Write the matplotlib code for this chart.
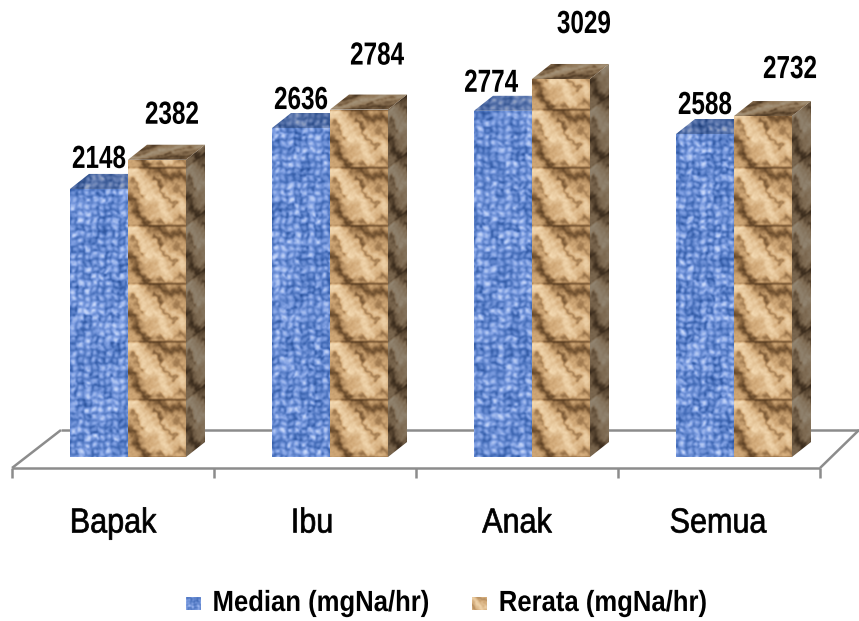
import numpy as np
import matplotlib
matplotlib.use("Agg")
import matplotlib.pyplot as plt
from matplotlib.patches import Polygon
from matplotlib.colors import LinearSegmentedColormap
from matplotlib.patheffects import AbstractPathEffect
from matplotlib.transforms import Affine2D

categories = ["Bapak", "Ibu", "Anak", "Semua"]
median_values = [2148, 2636, 2774, 2588]
mean_values = [2382, 2784, 3029, 2732]
series_names = ["Median (mgNa/hr)", "Rerata (mgNa/hr)"]

W, H = 859, 621
BASE_Y = 457          # baseline of the bars, in figure pixels
PX_PER_UNIT = 0.1248  # vertical scale
GROUP_STEP = 202      # pixels per category
GROUP_CENTRE = 113    # pixel position of the first category's centre
BAR_W = 58
DEPTH_X, DEPTH_Y = 19, 15
TILE = 58

fig = plt.figure(figsize=(W / 100, H / 100), dpi=100)
ax = fig.add_axes([0, 0, 1, 1])
ax.set_xlim(-GROUP_CENTRE / GROUP_STEP, (W - GROUP_CENTRE) / GROUP_STEP)
ax.set_ylim((BASE_Y - H) / PX_PER_UNIT, BASE_Y / PX_PER_UNIT)
ax.axis("off")

DU = 1 / GROUP_STEP   # one pixel in x units
DV = 1 / PX_PER_UNIT  # one pixel in value units

blue_map = LinearSegmentedColormap.from_list(
    "weave", [(0, "#173f88"), (0.35, "#4a72bd"), (0.65, "#7f9fe2"), (1, "#c9d9fb")])
tan_map = LinearSegmentedColormap.from_list(
    "paper", [(0, "#5a3e22"), (0.3, "#9a744a"), (0.6, "#d3ab7a"), (1, "#f8e0ba")])


class Narrow(AbstractPathEffect):
    """Squeeze the glyphs of a text horizontally about its centre."""

    def __init__(self, factor, stroke=0.0):
        super().__init__()
        self.factor = factor
        self.stroke = stroke

    def draw_path(self, renderer, gc, tpath, affine, rgbFace=None):
        ext = tpath.get_extents(affine)
        cx = 0.5 * (ext.x0 + ext.x1)
        squeezed = affine + Affine2D().translate(-cx, 0).scale(self.factor, 1).translate(cx, 0)
        if self.stroke:
            gc.set_linewidth(self.stroke)
            gc.set_foreground("black")
        renderer.draw_path(gc, tpath, squeezed, rgbFace)


def cell_hash(a, b):
    """Repeatable pseudo-shade in [0, 1] for integer cell indices."""
    h = np.sin(a * 12.9898 + b * 78.233) * 43758.5453
    return h - np.floor(h)


def weave(x, y):
    """Woven-cloth shade: a grid of threads with uneven brightness."""
    period = 7.0
    wx = x + 0.9 * np.sin(y * 0.37) + 0.6 * np.sin(y * 0.11 + x * 0.2)
    wy = y + 0.9 * np.sin(x * 0.41) + 0.6 * np.sin(x * 0.13 - y * 0.17)
    cx, cy = np.floor(wx / period), np.floor(wy / period)
    fx, fy = wx / period - cx, wy / period - cy
    bump = np.sin(np.pi * fx) * np.sin(np.pi * fy)
    cell = cell_hash(cx, cy)
    fine = cell_hash(np.floor(wx / 3.0), np.floor(wy / 3.0))
    s = 0.20 + 0.40 * bump + 0.36 * cell + 0.30 * (fine - 0.5)
    return np.clip(s, 0, 1)


def ridge(u, v, p, q, width):
    """Soft band along the segment p-q."""
    d = np.array(q, float) - np.array(p, float)
    t = np.clip(((u - p[0]) * d[0] + (v - p[1]) * d[1]) / (d @ d), 0, 1)
    dist = np.hypot(u - p[0] - t * d[0], v - p[1] - t * d[1])
    return np.exp(-(dist / width) ** 2)


def crumple(x, y, left):
    """Crumpled-paper shade, repeating once per stacked block."""
    u0 = x - left
    v0 = TILE - ((BASE_Y - y) % TILE)
    # bend the creases so they do not read as straight strokes
    u = u0 + 2.6 * np.sin(v0 * 0.31) + 1.3 * np.sin(v0 * 0.83 + u0 * 0.4)
    v = v0 + 2.6 * np.sin(u0 * 0.27) + 1.3 * np.sin(u0 * 0.91 - v0 * 0.3)
    s = 0.56 * np.ones_like(u)
    s += 0.32 * ridge(u, v, (6, 8), (40, 46), 7)
    s += 0.28 * ridge(u, v, (38, 24), (56, 44), 5)
    s += 0.22 * ridge(u, v, (2, 3), (28, 5), 3)
    s += 0.18 * ridge(u, v, (20, 50), (48, 55), 3)
    s += 0.16 * ridge(u, v, (4, 40), (20, 30), 3)
    s -= 0.46 * ridge(u, v, (24, 3), (58, 12), 5)
    s -= 0.50 * ridge(u, v, (0, 30), (16, 54), 5)
    s -= 0.46 * ridge(u, v, (26, 14), (46, 38), 2.6)
    s -= 0.36 * ridge(u, v, (2, 14), (14, 26), 2.6)
    s -= 0.30 * ridge(u, v, (28, 56), (58, 53), 2.5)
    s -= 0.22 * ridge(u, v, (46, 20), (58, 30), 2.2)
    s -= 0.55 * ridge(u0, v0, (0, 0.5), (58, 0.5), 1.1)
    s += 0.035 * (np.sin(u * 1.3 + v * 0.7) + np.sin(u * 0.6 - v * 1.9)
                  + np.sin(u * 2.7 + v * 2.1))
    return np.clip(s, 0, 1)


def soft(shade, x, y):
    """Average a shade function over a small neighbourhood of each pixel."""
    total = 0.0
    weight = 0.0
    for ox, oy, w in [(0, 0, 4), (-1, 0, 2), (1, 0, 2), (0, -1, 2), (0, 1, 2),
                      (-1, -1, 1), (1, -1, 1), (-1, 1, 1), (1, 1, 1)]:
        total = total + w * shade(x + ox, y + oy)
        weight += w
    return total / weight


def paint(points, shade, cmap, gain=1.0, grey=0.0, zorder=3):
    """Fill a polygon (x units, value units) with a per-pixel texture."""
    pts = np.array(points, float)
    xpx = GROUP_CENTRE + pts[:, 0] * GROUP_STEP
    ypx = BASE_Y - pts[:, 1] * PX_PER_UNIT
    x0, x1 = int(np.floor(xpx.min())), int(np.ceil(xpx.max()))
    y0, y1 = int(np.floor(ypx.min())), int(np.ceil(ypx.max()))
    gx, gy = np.meshgrid(np.arange(x0, x1) + 0.5, np.arange(y0, y1) + 0.5)
    rgb = cmap(soft(shade, gx, gy))[..., :3] * gain
    rgb = np.clip(rgb * (1 - grey) + rgb.mean(axis=2, keepdims=True) * grey, 0, 1)
    extent = [(x0 - GROUP_CENTRE) / GROUP_STEP, (x1 - GROUP_CENTRE) / GROUP_STEP,
              (BASE_Y - y1) / PX_PER_UNIT, (BASE_Y - y0) / PX_PER_UNIT]
    im = ax.imshow(rgb, extent=extent, origin="upper", aspect="auto",
                   interpolation="bilinear", zorder=zorder)
    clip = Polygon(pts, closed=True, transform=ax.transData, fc="none", ec="none")
    ax.add_patch(clip)
    im.set_clip_path(clip)


# Floor of the 3-D chart and the category ticks
floor = dict(color="#8c8c8c", lw=1.8, zorder=1, solid_capstyle="butt")
fl, fr = -0.5, 3.5
floor_y = -11 * DV
ax.plot([fl, fr], [floor_y, floor_y], **floor)
ax.plot([fl, fl + 49 * DU], [floor_y, 27 * DV], **floor)
ax.plot([fl + 49 * DU, (W - GROUP_CENTRE) / GROUP_STEP], [27 * DV, 27 * DV], **floor)
ax.plot([fr, fr + 39 * DU], [floor_y, 27 * DV], **floor)
for i in range(len(categories) + 1):
    ax.plot([fl + i, fl + i], [floor_y, floor_y - 10 * DV], **floor)

# Bars: front, top and right side faces
bw = BAR_W * DU
dx, dv = DEPTH_X * DU, DEPTH_Y * DV
for i, (med, mean) in enumerate(zip(median_values, mean_values)):
    a = i - 43 * DU
    b = a + bw
    c = b + bw
    left_mean = GROUP_CENTRE + b * GROUP_STEP

    paint([(a, med), (b, med), (b + dx, med + dv), (a + dx, med + dv)],
          weave, blue_map, gain=0.8)
    paint([(a, 0), (b, 0), (b, med), (a, med)], weave, blue_map)

    cm = lambda x, y, l=left_mean: crumple(x, y, l)
    side = lambda x, y, l=left_mean + BAR_W: crumple(
        l - 36 + (x - l) * 1.6, y + (x - l) * DEPTH_Y / DEPTH_X, l - 36)
    lid = lambda x, y, t=BASE_Y - mean * PX_PER_UNIT, l=left_mean: crumple(
        x - (t - y) * DEPTH_X / DEPTH_Y, BASE_Y - TILE + (t - y) * 3, l)
    paint([(c, 0), (c + dx, dv), (c + dx, mean + dv), (c, mean)],
          side, tan_map, gain=0.62, grey=0.2, zorder=4)
    paint([(b, mean), (c, mean), (c + dx, mean + dv), (b + dx, mean + dv)],
          lid, tan_map, gain=0.7, grey=0.1, zorder=4)
    paint([(b, 0), (c, 0), (c, mean), (b, mean)], cm, tan_map, zorder=5)

# Value labels, centred above their bars
label_x = [[-14, 59], [-14, 62], [-26, 67], [-14, 71]]
label_lift = [[29, 44], [27, 53], [27, 54], [28, 46]]
for i in range(len(categories)):
    for j, vals in enumerate((median_values, mean_values)):
        ax.text(i + label_x[i][j] * DU, vals[i] + label_lift[i][j] * DV, str(vals[i]),
                ha="center", va="center", family="Liberation Sans", weight="bold",
                fontsize=23, color="black", zorder=6, path_effects=[Narrow(0.76)])

# Category labels
label_centres = [0.0, -0.015, 0.0, -0.005]
for i, name in enumerate(categories):
    ax.text(i + label_centres[i], (BASE_Y - 523) * DV, name, ha="center", va="center",
            family="Liberation Sans", fontsize=25, color="black",
            path_effects=[Narrow(0.88, stroke=0.5)], zorder=6)

# Legend entries with small texture swatches
swatches = [(186, weave, blue_map), (472, crumple, tan_map)]
text_centres = [321, 603]
for (sx, shade, cmap), name, tc in zip(swatches, series_names, text_centres):
    u0 = (sx - GROUP_CENTRE) * DU
    u1 = (sx + 15 - GROUP_CENTRE) * DU
    v0, v1 = (BASE_Y - 610) * DV, (BASE_Y - 597) * DV
    if shade is crumple:
        swatch = lambda x, y, l=sx: 0.3 + 0.7 * crumple((x - l) * 4, BASE_Y - TILE + (y - 597) * 4, 0)
    else:
        swatch = lambda x, y: weave(x * 2.2, y * 2.2)
    paint([(u0, v0), (u1, v0), (u1, v1), (u0, v1)], swatch, cmap, zorder=6)
    ax.text((tc - GROUP_CENTRE) * DU, (BASE_Y - 603) * DV, name, ha="center", va="center",
            family="Liberation Sans", weight="bold", fontsize=21, color="black",
            path_effects=[Narrow(0.88)], zorder=6)

ax.set_xlim(-GROUP_CENTRE / GROUP_STEP, (W - GROUP_CENTRE) / GROUP_STEP)
ax.set_ylim((BASE_Y - H) / PX_PER_UNIT, BASE_Y / PX_PER_UNIT)
fig.savefig("out.png", dpi=100)
